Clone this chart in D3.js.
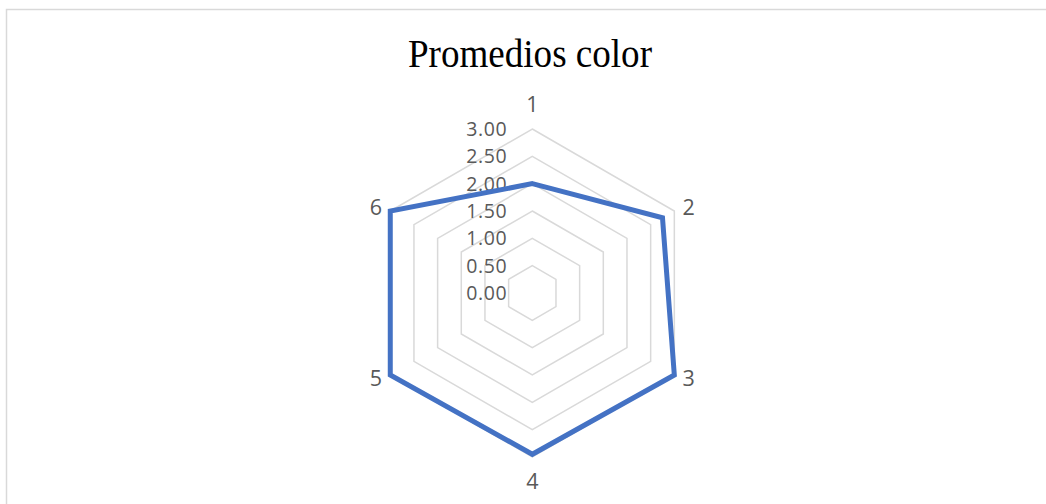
<!DOCTYPE html>
<html>
<head>
<meta charset="utf-8">
<script src="https://cdn.jsdelivr.net/npm/d3@7"></script>
<style>
  html, body { margin: 0; padding: 0; background: #fff; }
</style>
</head>
<body>
<div id="chart"></div>
<script>
// chart data
var categories = ["1", "2", "3", "4", "5", "6"];
var promedios = [2.00, 2.75, 3.00, 2.95, 3.00, 3.00];
var tickValues = [0, 0.5, 1, 1.5, 2, 2.5, 3];

var width = 1046, height = 504;
var cx = 532.3, cy = 293, radius = 164;

var svg = d3.select("#chart").append("svg")
    .attr("width", width)
    .attr("height", height);

// chart area border
svg.append("rect")
    .attr("x", 6.5).attr("y", 9.5)
    .attr("width", 1100).attr("height", 600)
    .attr("fill", "#fff")
    .attr("stroke", "#d9d9d9")
    .attr("stroke-width", 1.5);

svg.append("text")
    .attr("x", 530).attr("y", 67)
    .attr("text-anchor", "middle")
    .attr("font-family", "'Liberation Serif', 'Times New Roman', serif")
    .attr("font-size", 40)
    .attr("textLength", 244)
    .attr("lengthAdjust", "spacingAndGlyphs")
    .attr("fill", "#000")
    .text("Promedios color");

var g = svg.append("g")
    .attr("transform", "translate(" + cx + "," + cy + ")");

// scales
var r = d3.scaleLinear().domain([0, 3]).range([0, radius]);
var angle = d3.scalePoint().domain(categories).range([0, 2 * Math.PI * 5 / 6]);

function px(c, v) { return r(v) * Math.sin(angle(c)); }
function py(c, v) { return -r(v) * Math.cos(angle(c)); }

var ring = d3.line()
    .x(function(d) { return px(d.c, d.v); })
    .y(function(d) { return py(d.c, d.v); })
    .curve(d3.curveLinearClosed);

// grid rings
g.selectAll(".ring")
    .data(tickValues.filter(function(t) { return t > 0; }))
  .enter().append("path")
    .attr("class", "ring")
    .attr("d", function(t) {
      return ring(categories.map(function(c) { return { c: c, v: t }; }));
    })
    .attr("fill", "none")
    .attr("stroke", "#d9d9d9")
    .attr("stroke-width", 1.5);

// value labels
g.selectAll(".tick-label")
    .data(tickValues)
  .enter().append("text")
    .attr("class", "tick-label")
    .attr("x", -25)
    .attr("y", function(t) { return -r(t); })
    .attr("dy", "0.36em")
    .attr("text-anchor", "end")
    .attr("font-family", "'Open Sans', sans-serif")
    .attr("font-size", 19.5)
    .attr("letter-spacing", 0.6)
    .attr("fill", "#595959")
    .text(function(t) { return d3.format(".2f")(t); });

// series
g.append("path")
    .datum(categories.map(function(c, i) { return { c: c, v: promedios[i] }; }))
    .attr("d", ring)
    .attr("fill", "none")
    .attr("stroke", "#4472c4")
    .attr("stroke-width", 5)
    .attr("stroke-linejoin", "miter");

// category labels
g.selectAll(".cat-label")
    .data(categories)
  .enter().append("text")
    .attr("class", "cat-label")
    .attr("x", function(c) { return px(c, 3) + 9.5 * Math.sin(angle(c)); })
    .attr("y", function(c) {
      var k = Math.cos(angle(c));
      return py(c, 3) - (Math.abs(k) > 0.9 ? 24.5 : 7) * k;
    })
    .attr("dy", "0.36em")
    .attr("text-anchor", function(c) {
      var s = Math.sin(angle(c));
      return s > 0.1 ? "start" : (s < -0.1 ? "end" : "middle");
    })
    .attr("font-family", "'Open Sans', sans-serif")
    .attr("font-size", 21.5)
    .attr("fill", "#595959")
    .text(function(c) { return c; });
</script>
</body>
</html>
